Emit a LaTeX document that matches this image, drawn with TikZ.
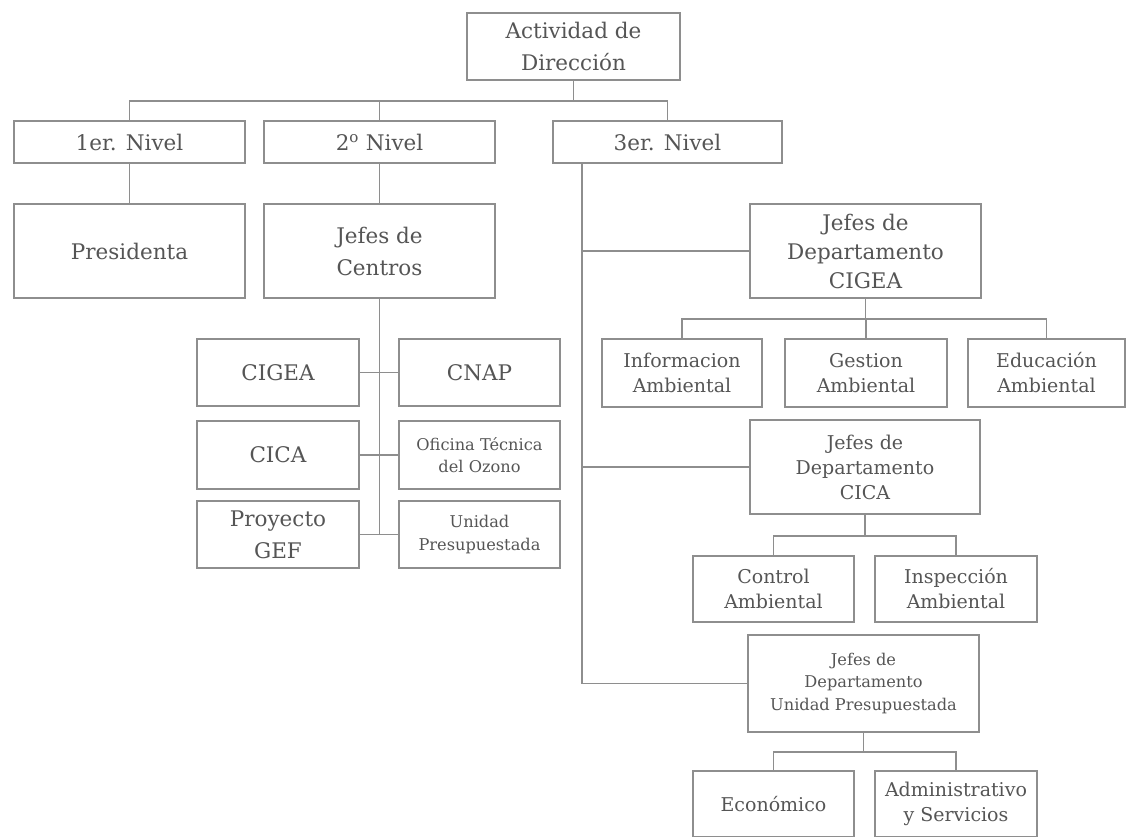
\documentclass[tikz,border=0pt]{standalone}
\usepackage{fontspec}
\setmainfont{DejaVu Serif}
\usepackage{tikz}
\usetikzlibrary{positioning}
\definecolor{line}{HTML}{8E8E8E}
\definecolor{ink}{HTML}{555555}
\tikzset{box/.style={draw=line,line width=1.6pt,text=ink,align=center,inner sep=0pt},wh/.style 2 args={minimum width=#1pt,minimum height=#2pt},big/.style={font=\fontsize{21.5}{32}\selectfont},mid/.style={font=\fontsize{19}{25}\selectfont},small/.style={font=\fontsize{16.2}{22.6}\selectfont},conn/.style={draw=line,line width=1.6pt}}

\begin{document}
\begin{tikzpicture}[x=1pt,y=-1pt]
\useasboundingbox (0,0) rectangle (1126,837);
% top and levels
\node[box,big,wh={213}{67}] (act) at (573.5,46.5) {Actividad de\\Dirección};
\node[box,big,wh={231}{42}] (niv1) at (129.5,142) {1er. Nivel};\node[box,big,wh={231}{42}] (niv2) at (379.5,142) {2\textsuperscript{o} Nivel};\node[box,big,wh={229}{42}] (niv3) at (667.5,142) {3er. Nivel};
\node[box,big,wh={231}{94}] (pres) at (129.5,251) {Presidenta};\node[box,big,wh={231}{94}] (jcen) at (379.5,251) {Jefes de\\Centros};
% centros
\node[box,big,wh={162}{67}] (cigea) at (278,372.5) {CIGEA};\node[box,big,wh={161}{67}] (cnap) at (479.5,372.5) {CNAP};
\node[box,big,wh={162}{68}] (cica) at (278,455) {CICA};\node[box,small,wh={161}{68}] (ozono) at (479.5,455) {Oficina Técnica\\del Ozono};
\node[box,big,wh={162}{67}] (gef) at (278,534.5) {Proyecto\\GEF};\node[box,small,wh={161}{67}] (unid) at (479.5,534.5) {Unidad\\Presupuestada};
% departamentos
\node[box,big,font=\fontsize{21.5}{29}\selectfont,wh={231}{94}] (jcigea) at (865.5,251) {Jefes de\\Departamento\\CIGEA};
\node[box,mid,wh={160}{68}] (info) at (682,373) {Informacion\\Ambiental};\node[box,mid,wh={162}{68}] (gest) at (866,373) {Gestion\\Ambiental};\node[box,mid,wh={157}{68}] (educ) at (1046.5,373) {Educación\\Ambiental};
\node[box,mid,wh={230}{94}] (jcica) at (865,467) {Jefes de\\Departamento\\CICA};
\node[box,mid,wh={161}{66}] (ctrl) at (773.5,589) {Control\\Ambiental};\node[box,mid,wh={162}{66}] (insp) at (956,589) {Inspección\\Ambiental};
\node[box,small,wh={231}{97}] (jup) at (863.5,683.5) {Jefes de\\Departamento\\Unidad Presupuestada};
\node[box,mid,wh={161}{66}] (econ) at (773.5,804) {Económico};\node[box,mid,wh={162}{66}] (admin) at (956,804) {Administrativo\\y Servicios};
% connectors
\draw[conn] (act.south) -- ++(0,20) coordinate (b0);\draw[conn] (niv1.north) |- (b0) -| (niv3.north);\draw[conn] (niv2.north) -- (niv2.north |- b0);
\draw[conn] (niv1) -- (pres);\draw[conn] (niv2) -- (jcen);
\draw[conn] (jcen.south) -- (jcen.south |- gef.east);
\foreach \l/\r in {cigea/cnap,cica/ozono,gef/unid}{\draw[conn] (\l.east) -- (\r.west);}
\coordinate (s3) at (582,163);
\draw[conn] (s3) |- (jup.west);\draw[conn] (jcigea.west) -- (jcigea.west -| s3);\draw[conn] (jcica.west) -- (jcica.west -| s3);
\draw[conn] (jcigea.south) -- ++(0,20) coordinate (b1);\foreach \n in {info,gest,educ}{\draw[conn] (\n.north) |- (b1);}
\draw[conn] (jcica.south) -- ++(0,21) coordinate (b2);\foreach \n in {ctrl,insp}{\draw[conn] (\n.north) |- (b2);}
\draw[conn] (jup.south) -- ++(0,19) coordinate (b3);\foreach \n in {econ,admin}{\draw[conn] (\n.north) |- (b3);}
\end{tikzpicture}
\end{document}
